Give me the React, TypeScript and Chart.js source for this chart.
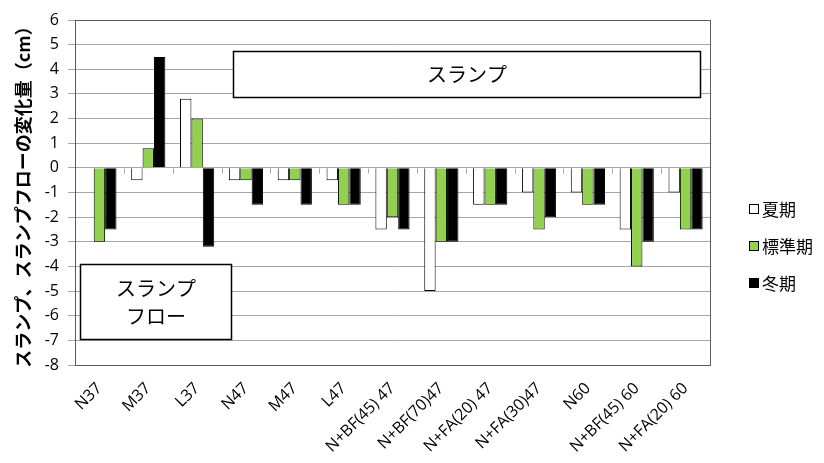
import React, { useEffect, useRef } from "react";
import { Chart, registerables } from "chart.js";

Chart.register(...registerables);

const categories = [
  "N37", "M37", "L37", "N47", "M47", "L47",
  "N+BF(45) 47", "N+BF(70)47", "N+FA(20) 47", "N+FA(30)47",
  "N60", "N+BF(45) 60", "N+FA(20) 60",
];
const seriesNames = ["夏期", "標準期", "冬期"];
const summer = [0, -0.5, 2.8, -0.5, -0.5, -0.5, -2.5, -5, -1.5, -1, -1, -2.5, -1];
const standard = [-3, 0.8, 2, -0.5, -0.5, -1.5, -2, -3, -1.5, -2.5, -1.5, -4, -2.5];
const winter = [-2.5, 4.5, -3.2, -1.5, -1.5, -1.5, -2.5, -3, -1.5, -2, -1.5, -3, -2.5];
const seriesColors = ["#ffffff", "#92d050", "#000000"];
const yMin = -8;
const yMax = 6;
const yTitle = "スランプ、スランプフローの変化量（cm）";
const slumpLabel = ["スランプ"];
const flowLabel = ["スランプ", "フロー"];

const JP = '"Noto Sans CJK JP", "Noto Sans", sans-serif';
const NUM = '"Open Sans", "Noto Sans", sans-serif';

const decorPlugin = {
  id: "decor",
  afterDraw(chart: any) {
    const { ctx, chartArea, scales } = chart;
    const x = scales.x;
    const y = scales.y;
    ctx.save();
    // category tick marks on zero line
    const y0 = Math.round(y.getPixelForValue(0)) + 0.5;
    ctx.strokeStyle = "#a6a6a6";
    ctx.lineWidth = 1;
    for (let i = 1; i < categories.length; i++) {
      const px = Math.round(x.getPixelForValue(i - 0.5)) + 0.5;
      ctx.beginPath();
      ctx.moveTo(px, y0);
      ctx.lineTo(px, y0 + 5);
      ctx.stroke();
    }
    // plot border
    ctx.strokeStyle = "#595959";
    ctx.lineWidth = 1;
    const l = Math.round(chartArea.left) + 0.5;
    const t = Math.round(chartArea.top) + 0.5;
    const r = Math.round(chartArea.right) + 0.5;
    const b = Math.round(chartArea.bottom) + 0.5;
    ctx.strokeRect(l, t, r - l, b - t);

    const box = (x1: number, x2: number, v1: number, v2: number, lines: string[], lh: number) => {
      const px1 = Math.round(x.getPixelForValue(x1)) + 0.5;
      const px2 = Math.round(x.getPixelForValue(x2)) + 0.5;
      const py1 = Math.round(y.getPixelForValue(v1)) + 0.5;
      const py2 = Math.round(y.getPixelForValue(v2)) + 0.5;
      ctx.fillStyle = "#ffffff";
      ctx.fillRect(px1, py1, px2 - px1, py2 - py1);
      ctx.strokeStyle = "#000000";
      ctx.lineWidth = 1.5;
      ctx.strokeRect(px1, py1, px2 - px1, py2 - py1);
      ctx.fillStyle = "#000000";
      ctx.font = `20px ${JP}`;
      ctx.textAlign = "center";
      ctx.textBaseline = "middle";
      const cx = (px1 + px2) / 2;
      const cy = (py1 + py2) / 2;
      lines.forEach((s, i) => {
        ctx.fillText(s, cx, cy + (i - (lines.length - 1) / 2) * lh);
      });
    };
    box(2.73, 12.3, 4.75, 2.88, slumpLabel, 28);
    box(-0.4, 2.69, -3.9, -6.95, flowLabel, 28);

    // legend
    const lx = 749;
    const ly = [209, 246, 283];
    ctx.font = `17px ${JP}`;
    ctx.textAlign = "left";
    ctx.textBaseline = "middle";
    seriesNames.forEach((n, i) => {
      ctx.fillStyle = seriesColors[i];
      ctx.fillRect(lx + 0.5, ly[i] - 4.5, 9, 9);
      ctx.strokeStyle = "#000000";
      ctx.lineWidth = 1;
      ctx.strokeRect(lx + 0.5, ly[i] - 4.5, 9, 9);
      ctx.fillStyle = "#000000";
      ctx.fillText(n, lx + 13, ly[i] + 1);
    });
    ctx.restore();
  },
};

export default function App() {
  const ref = useRef<HTMLCanvasElement | null>(null);
  useEffect(() => {
    document.body.style.margin = "0";
    const canvas = ref.current;
    if (!canvas) return;
    const datasets = [summer, standard, winter].map((d, i) => ({
      label: seriesNames[i],
      data: d,
      backgroundColor: seriesColors[i],
      borderColor: "#000000",
      borderWidth: 1,
      categoryPercentage: 0.7,
      barPercentage: 1.0,
    }));
    const chart = new Chart(canvas, {
      type: "bar",
      data: { labels: categories, datasets },
      options: {
        animation: false,
        responsive: false,
        devicePixelRatio: 1,
        layout: { padding: { top: 20, right: 114, left: 0, bottom: 0 } },
        plugins: {
          legend: { display: false },
          tooltip: { enabled: false },
        },
        scales: {
          x: {
            grid: { display: false, drawTicks: false },
            border: { display: false },
            ticks: {
              minRotation: 45,
              maxRotation: 45,
              autoSkip: false,
              padding: 14,
              color: "#000000",
              font: { family: NUM, size: 16 },
            },
            afterFit(scale: any) {
              scale.height = 98;
            },
          },
          y: {
            min: yMin,
            max: yMax,
            ticks: {
              stepSize: 1,
              padding: 9,
              color: "#000000",
              font: { family: NUM, size: 16 },
            },
            grid: {
              color: "#a6a6a6",
              lineWidth: 1,
              tickLength: 7,
            },
            border: { display: false },
            title: {
              display: true,
              text: yTitle,
              color: "#000000",
              font: { family: JP, size: 18, weight: "bold" },
              padding: { top: 12, bottom: 0 },
            },
            afterFit(scale: any) {
              scale.width = 75;
            },
          },
        },
      },
      plugins: [decorPlugin],
    } as any);
    return () => chart.destroy();
  }, []);
  return (
    <div style={{ position: "absolute", left: 0, top: 0, width: 824, height: 463 }}>
      <canvas ref={ref} width={824} height={463} />
    </div>
  );
}
